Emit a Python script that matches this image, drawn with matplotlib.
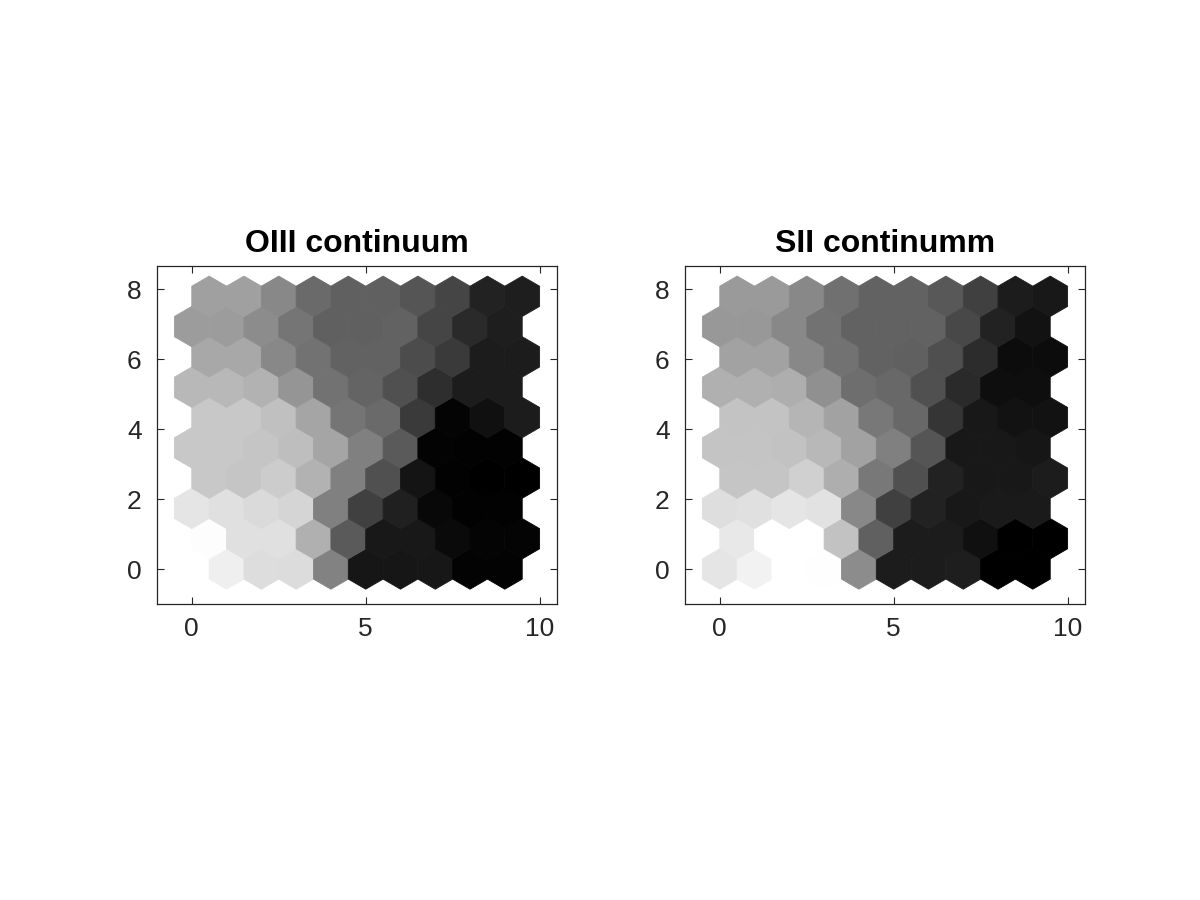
import numpy as np
import matplotlib
matplotlib.use("Agg")
import matplotlib.pyplot as plt
from matplotlib.patches import RegularPolygon
from matplotlib.collections import PatchCollection

plt.rcParams['font.family'] = ['Liberation Sans', 'DejaVu Sans']

# SOM grid: 10 columns x 10 rows, odd rows shifted by half a cell
n_cols = 10
n_rows = 10

# grey level (0 = black, 255 = white) of each neuron, bottom row first
oiii_levels = [
  [0xFF, 0xEF, 0xDD, 0xDC, 0x82, 0x16, 0x16, 0x17, 0x03, 0x03],
  [0xFD, 0xE0, 0xE0, 0xB0, 0x5A, 0x18, 0x18, 0x0A, 0x04, 0x04],
  [0xE5, 0xE0, 0xDA, 0xD5, 0x80, 0x40, 0x20, 0x08, 0x02, 0x02],
  [0xC8, 0xC5, 0xCC, 0xB2, 0x80, 0x50, 0x14, 0x02, 0x00, 0x00],
  [0xC8, 0xC8, 0xC5, 0xBE, 0xA5, 0x80, 0x5A, 0x03, 0x02, 0x02],
  [0xC8, 0xC8, 0xC0, 0xA5, 0x75, 0x6A, 0x3A, 0x04, 0x10, 0x1C],
  [0xB8, 0xB8, 0xB2, 0x95, 0x72, 0x64, 0x50, 0x2E, 0x1C, 0x1C],
  [0xA8, 0xA8, 0x88, 0x72, 0x62, 0x62, 0x4C, 0x3A, 0x1C, 0x1C],
  [0x9C, 0x9C, 0x8C, 0x75, 0x60, 0x60, 0x62, 0x45, 0x2A, 0x1E],
  [0xA0, 0xA0, 0x88, 0x6A, 0x60, 0x60, 0x55, 0x45, 0x22, 0x1E],
]

sii_levels = [
  [0xE5, 0xF2, 0xFF, 0xFE, 0x8C, 0x1C, 0x1C, 0x1E, 0x00, 0x00],
  [0xE8, 0xFF, 0xFF, 0xC2, 0x60, 0x1C, 0x1C, 0x10, 0x00, 0x00],
  [0xDE, 0xE0, 0xE5, 0xE2, 0x88, 0x40, 0x22, 0x18, 0x1A, 0x1A],
  [0xC5, 0xC5, 0xD0, 0xAE, 0x78, 0x50, 0x22, 0x18, 0x18, 0x1C],
  [0xC4, 0xC4, 0xC2, 0xB8, 0xA2, 0x80, 0x55, 0x18, 0x18, 0x16],
  [0xC3, 0xC3, 0xB5, 0xA2, 0x78, 0x68, 0x35, 0x18, 0x12, 0x12],
  [0xB0, 0xB0, 0xAE, 0x90, 0x6E, 0x68, 0x50, 0x2A, 0x0E, 0x0E],
  [0xA2, 0xA2, 0x88, 0x72, 0x62, 0x60, 0x4F, 0x2C, 0x0C, 0x0C],
  [0x98, 0x98, 0x88, 0x72, 0x62, 0x62, 0x62, 0x48, 0x22, 0x12],
  [0x9A, 0x9A, 0x88, 0x70, 0x62, 0x62, 0x58, 0x40, 0x1C, 0x18],
]

titles = ["OIII continuum", "SII continumm"]
x_ticks = [0, 5, 10]
y_ticks = [0, 2, 4, 6, 8]

tick_color = "#262626"


def hex_positions():
  xs, ys = [], []
  for r in range(n_rows):
    for c in range(n_cols):
      xs.append(c + 0.5 * (r % 2))
      ys.append(r * np.sqrt(3) / 2)
  return xs, ys


def draw_planes(ax, levels, title):
  xs, ys = hex_positions()
  hexes = [RegularPolygon((x, y), numVertices=6, radius=1 / np.sqrt(3),
                          orientation=0) for x, y in zip(xs, ys)]
  coll = PatchCollection(hexes, cmap="gray", edgecolor="face", linewidth=0.6)
  coll.set_array(np.array(levels, dtype=float).ravel())
  coll.set_clim(0, 255)
  ax.add_collection(coll)

  ax.set_xlim(-1, n_cols + 0.5)
  ax.set_ylim(-1, n_rows * np.sqrt(0.75))
  ax.set_xticks(x_ticks)
  ax.set_yticks(y_ticks)
  ax.tick_params(direction="in", length=5, width=0.8, colors=tick_color,
                 labelsize=19, top=True, right=True)
  ax.tick_params(axis="x", pad=9)
  ax.tick_params(axis="y", pad=11)
  for s in ax.spines.values():
    s.set_color(tick_color)
    s.set_linewidth(0.9)
  ax.set_title(title, fontsize=23, fontweight="bold", pad=10)


fig = plt.figure(figsize=(12, 9), dpi=100)
ax1 = fig.add_axes([157 / 1200, 1 - 604 / 900, 400 / 1200, 338 / 900])
ax2 = fig.add_axes([685 / 1200, 1 - 604 / 900, 400 / 1200, 338 / 900])

draw_planes(ax1, oiii_levels, titles[0])
draw_planes(ax2, sii_levels, titles[1])

fig.savefig("out.png", dpi=100)
